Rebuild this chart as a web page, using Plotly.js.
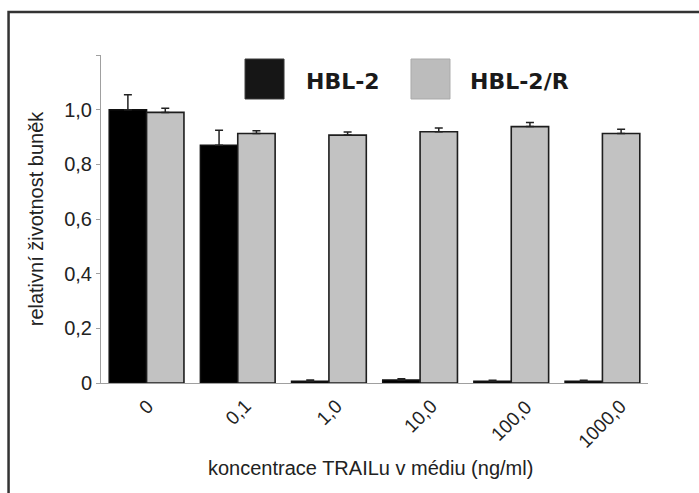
<!DOCTYPE html>
<html>
<head>
<meta charset="utf-8">
<script src="https://cdn.plot.ly/plotly-3.0.1.min.js"></script>
<style>
  html, body { margin: 0; padding: 0; background: #fff; }
  #chart { width: 699px; height: 493px; }
</style>
</head>
<body>
<div id="chart"></div>
<script>
const categories = ["0", "0,1", "1,0", "10,0", "100,0", "1000,0"];
const hbl2 = [1.0, 0.87, 0.006, 0.011, 0.006, 0.006];
const hbl2Err = [0.055, 0.055, 0.005, 0.005, 0.004, 0.004];
const hbl2r = [0.99, 0.913, 0.907, 0.919, 0.938, 0.913];
const hbl2rErr = [0.015, 0.01, 0.011, 0.014, 0.015, 0.015];
const yTickVals = [0, 0.2, 0.4, 0.6, 0.8, 1.0, 1.2];
const yTickText = ["0", "0,2", "0,4", "0,6", "0,8", "1,0", ""];
const seriesNames = ["HBL-2", "HBL-2/R"];
const xTitle = "koncentrace TRAILu v médiu (ng/ml)";
const yTitle = "relativní životnost buněk";

const zeros = categories.map(() => 0);
const baseFont = "Liberation Sans, Arial, sans-serif";

const traces = [
  {
    type: "bar", name: seriesNames[0], x: categories, y: hbl2,
    marker: { color: "#000000", line: { color: "#111111", width: 1.5 } },
    error_y: { type: "data", symmetric: false, array: hbl2Err, arrayminus: zeros,
               color: "#222222", thickness: 1.5, width: 4 },
    showlegend: false
  },
  {
    type: "bar", name: seriesNames[1], x: categories, y: hbl2r,
    marker: { color: "#c2c2c2", line: { color: "#1e1e1e", width: 1.6 } },
    error_y: { type: "data", symmetric: false, array: hbl2rErr, arrayminus: zeros,
               color: "#222222", thickness: 1.5, width: 4 },
    showlegend: false
  }
];

// category tick labels, rotated and centred under each group
const tickAnnotations = categories.map(c => ({
  xref: "x", yref: "paper", x: c, y: -0.03, xanchor: "center", yanchor: "top",
  text: c, textangle: -45, showarrow: false,
  font: { family: baseFont, size: 19, color: "#222222" }
}));

const layout = {
  width: 699, height: 493,
  margin: { l: 101, r: 51, t: 55, b: 110 },
  paper_bgcolor: "#ffffff", plot_bgcolor: "#ffffff",
  font: { family: baseFont, color: "#222222" },
  barmode: "group", bargap: 0.18, bargroupgap: 0,
  xaxis: {
    type: "category", range: [-0.5, 5.5],
    showline: true, linecolor: "#a0a0a0", linewidth: 1,
    ticks: "", showticklabels: false,
    showgrid: false, zeroline: false
  },
  yaxis: {
    range: [0, 1.2],
    showline: true, linecolor: "#a0a0a0", linewidth: 1,
    ticks: "outside", ticklen: 4, tickcolor: "#a0a0a0",
    tickvals: yTickVals, ticktext: yTickText,
    tickfont: { size: 20, color: "#222222" },
    showgrid: false, zeroline: false,
    title: { text: yTitle, font: { size: 20, color: "#222222" }, standoff: 15 }
  },
  shapes: [
    { type: "rect", xref: "paper", yref: "paper", x0: -0.169, x1: 1.3, y0: -0.6, y1: 1.131,
      line: { color: "#333333", width: 2.5 }, fillcolor: "rgba(0,0,0,0)", layer: "below" },
    { type: "rect", xref: "paper", yref: "paper", x0: 0.2633, x1: 0.3346, y0: 0.8659, y1: 0.9878,
      line: { color: "#3a3a3a", width: 1 }, fillcolor: "#161616" },
    { type: "rect", xref: "paper", yref: "paper", x0: 0.5667, x1: 0.638, y0: 0.8659, y1: 0.9878,
      line: { color: "#aaaaaa", width: 1 }, fillcolor: "#bcbcbc" }
  ],
  annotations: [
    { xref: "paper", yref: "paper", x: 0.3711, y: 0.9207, xanchor: "left", yanchor: "middle",
      text: "<b>" + seriesNames[0] + "</b>", showarrow: false,
      font: { family: "DejaVu Sans", size: 22, color: "#1a1a1a" } },
    { xref: "paper", yref: "paper", x: 0.6709, y: 0.9207, xanchor: "left", yanchor: "middle",
      text: "<b>" + seriesNames[1] + "</b>", showarrow: false,
      font: { family: "DejaVu Sans", size: 22, color: "#1a1a1a" } },
    { xref: "paper", yref: "paper", x: 0.492, y: -0.259, xanchor: "center", yanchor: "middle",
      text: xTitle, showarrow: false,
      font: { family: baseFont, size: 20, color: "#222222" } }
  ].concat(tickAnnotations)
};

Plotly.newPlot("chart", traces, layout, { displayModeBar: false, staticPlot: true });
</script>
</body>
</html>
